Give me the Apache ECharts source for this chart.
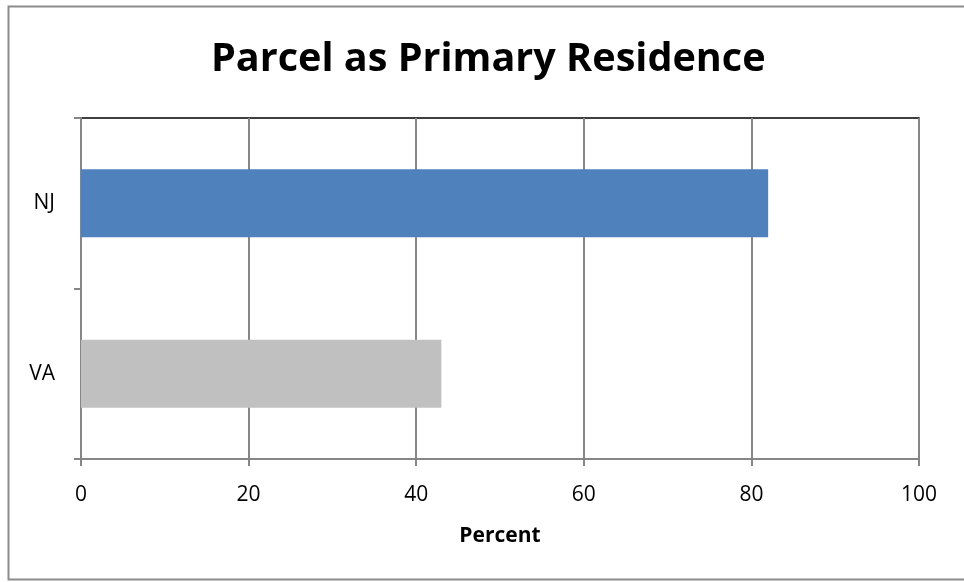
<!DOCTYPE html>
<html>
<head>
<meta charset="utf-8">
<script src="https://cdn.jsdelivr.net/npm/echarts@6/dist/echarts.min.js"></script>
<style>html,body{margin:0;padding:0;background:#fff;}#c{width:964px;height:582px;}</style>
</head>
<body>
<div id="c"></div>
<script>
const categories = ['NJ', 'VA'];
const values = [82, 43];
const barColors = ['#4F81BD', '#C0C0C0'];
const xTicks = [0, 20, 40, 60, 80, 100];

const FONT = '"Open Sans"';
const chart = echarts.init(document.getElementById('c'), null, {renderer: 'canvas'});
chart.setOption({
  animation: false,
  backgroundColor: '#fff',
  title: {
    text: 'Parcel as Primary Residence',
    left: 206, top: 35,
    textStyle: {fontFamily: FONT, fontWeight: 'bold', fontSize: 39.6, color: '#000'}
  },
  graphic: [{
    type: 'rect', silent: true, z: -1,
    shape: {x: 8.5, y: 6.5, width: 1000, height: 573},
    style: {fill: 'none', stroke: '#8c8c8c', lineWidth: 2}
  }],
  grid: {
    left: 81, right: 45, top: 118, bottom: 123,
    show: true, borderColor: '#000', borderWidth: 1.5, backgroundColor: 'transparent'
  },
  xAxis: {
    type: 'value', min: xTicks[0], max: xTicks[xTicks.length - 1], interval: 20,
    name: 'Percent', nameLocation: 'middle', nameGap: 67,
    nameTextStyle: {fontFamily: FONT, fontWeight: 'bold', fontSize: 21, color: '#000'},
    axisLine: {show: true, lineStyle: {color: '#868686', width: 2}},
    axisTick: {show: true, length: 7, lineStyle: {color: '#868686', width: 2}},
    axisLabel: {fontFamily: FONT, fontSize: 21, color: '#000', margin: 26},
    splitLine: {show: true, lineStyle: {color: '#868686', width: 2}}
  },
  yAxis: {
    type: 'category', data: categories, inverse: true,
    axisLine: {show: true, lineStyle: {color: '#868686', width: 2}},
    axisTick: {show: true, length: 7, lineStyle: {color: '#868686', width: 2}},
    axisLabel: {fontFamily: FONT, fontSize: 21, color: '#000', margin: 26},
    splitLine: {show: false}
  },
  series: [{
    type: 'bar',
    barCategoryGap: '60%',
    data: values.map((v, i) => ({value: v, itemStyle: {color: barColors[i]}}))
  }]
});
</script>
</body>
</html>
